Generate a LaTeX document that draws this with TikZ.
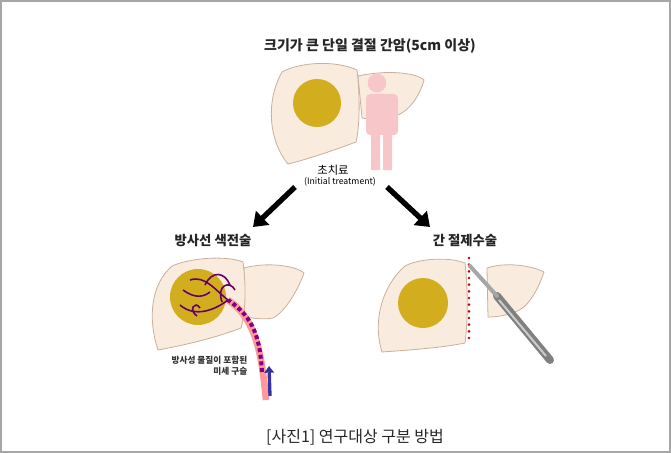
\documentclass[tikz,border=0pt]{standalone}
\usepackage{fontspec}
\newfontfamily\cjk{Noto Sans CJK KR}
\usetikzlibrary{arrows.meta}
\definecolor{liver}{HTML}{FAEBDF}
\definecolor{liveredge}{HTML}{C8B09C}
\definecolor{tumor}{HTML}{D2AE1E}
\definecolor{person}{HTML}{F6C6C8}
\tikzset{lobe/.style={fill=liver,draw=liveredge,line width=0.6pt,line join=round},
 tum/.style={fill=tumor},
 lbl/.style={font=\cjk\bfseries\fontsize{10}{12}\selectfont,text=black!85},
 big/.style={-{Triangle[length=10pt,width=14pt]},line width=4pt}}
\begin{document}
\begin{tikzpicture}[x=0.75pt,y=-0.75pt]
\useasboundingbox (0,0) rectangle (671,453);
\draw[black!35,line width=0.8pt] (1,1) rectangle (670,452);
% top liver
\draw[lobe] (358,76) .. controls (385,70) and (415,72) .. (424,80) .. controls (420,95) and (410,110) .. (398,115) .. controls (385,118) and (370,120) .. (362,118) -- cycle;
\draw[lobe] (282,72) .. controls (300,62) and (335,60) .. (357,70) .. controls (360,95) and (360,125) .. (356,142) .. controls (335,150) and (305,160) .. (288,164) .. controls (268,140) and (266,100) .. (282,72) -- cycle;
\fill[tum] (317,103) circle (24);
\node[fill=person,circle,inner sep=0,minimum size=14] (head) at (377,83) {};
\fill[person,rounded corners=3] (366,94) rectangle (398,135);
\fill[person] (371,125) rectangle (380,170) (383,125) rectangle (392,170);
\node[lbl,font=\cjk\bfseries\fontsize{10.5}{12}\selectfont] (title) at (370,46) {크기가 큰 단일 결절 간암(5cm 이상)};
\node[font=\cjk\fontsize{8.5}{9}\selectfont] (init) at (333,170) {초치료};
\node[font=\cjk\fontsize{6.5}{7}\selectfont] (initen) at (340,182) {(Initial treatment)};
\coordinate (la) at (295,187); \coordinate (lb) at (253,227);
\coordinate (ra) at (387,187); \coordinate (rb) at (430,227);
\draw[big] (la) -- (lb);
\draw[big] (ra) -- (rb);
% bottom left
\node[lbl] (emb) at (213,241) {방사선 색전술};
\draw[lobe] (244,268) .. controls (265,262) and (295,265) .. (304,273) .. controls (298,290) and (285,312) .. (273,318) .. controls (262,320) and (250,318) .. (243,316) -- cycle;
\draw[lobe] (172,266) .. controls (190,258) and (225,255) .. (243,262) .. controls (246,285) and (246,310) .. (241,328) .. controls (215,338) and (185,345) .. (158,350) .. controls (148,320) and (150,285) .. (172,266) -- cycle;
\fill[tum] (198,297) circle (28);
\draw[pink!80!red,line width=5pt] (266,400) .. controls (262,360) and (258,320) .. (228,300);
\draw[violet,line width=3pt,dash pattern=on 3pt off 2pt] (262,372) .. controls (260,340) and (255,318) .. (228,300);
\draw[violet!80!black,line width=1.2pt] (228,300) .. controls (215,290) and (205,275) .. (190,280) (228,300) .. controls (215,310) and (195,318) .. (180,305) (210,292) .. controls (200,300) and (190,295) .. (183,290) (230,285) .. controls (225,272) and (212,270) .. (205,285) (200,308) .. controls (195,300) and (188,310) .. (197,316) (222,302) .. controls (216,285) and (230,280) .. (235,290);
\draw[-{Triangle[length=5pt,width=7pt]},line width=2.5pt,blue!55!black!80] (270,396) -- (269,366);
\node[font=\cjk\bfseries\fontsize{6.5}{8}\selectfont,align=right,anchor=east,text=black!80] (micro) at (252,366) {방사성 물질이 포함된\\미세 구슬};
% bottom right
\node[lbl] (res) at (465,241) {간 절제수술};
\draw[lobe] (487,268) .. controls (505,262) and (530,265) .. (544,272) .. controls (538,290) and (528,308) .. (515,312) .. controls (505,316) and (495,317) .. (488,317) -- cycle;
\draw[lobe] (405,266) .. controls (420,258) and (450,257) .. (465,263) .. controls (468,290) and (468,320) .. (465,343) .. controls (440,348) and (410,350) .. (382,352) .. controls (372,320) and (383,285) .. (405,266) -- cycle;
\fill[tum] (423,303) circle (25);
\draw[red!80!black,line width=2.2pt,line cap=round,dash pattern=on 0pt off 5pt] (469,258) -- (469,341);
\draw[gray,line width=6pt,line cap=round] (497,296) -- (550,360);
\draw[gray!70,line width=3pt,line cap=round] (470,266) -- (497,296);
\draw[gray!40,line width=1.5pt] (499,300) -- (546,356);
\node[font=\cjk\fontsize{12}{14}\selectfont,text=black!85] (cap) at (355,437) {[사진1] 연구대상 구분 방법};
\end{tikzpicture}
\end{document}
